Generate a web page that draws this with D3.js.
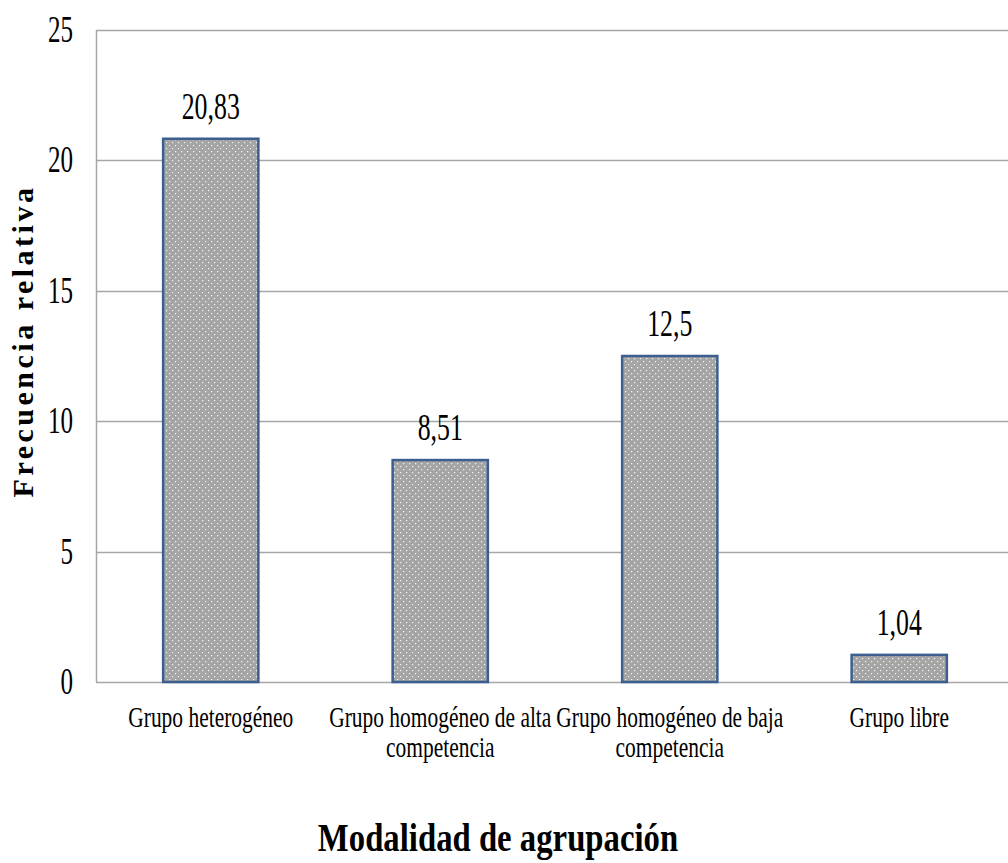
<!DOCTYPE html>
<html>
<head>
<meta charset="utf-8">
<script src="https://cdn.jsdelivr.net/npm/d3@7"></script>
<style>
  body { margin: 0; background: #fff; }
  text { font-family: "Liberation Serif", "Times New Roman", serif; fill: #000; }
</style>
</head>
<body>
<div id="chart"></div>
<script>
// data
var categories = ["Grupo heterogéneo", "Grupo homogéneo de alta competencia", "Grupo homogéneo de baja competencia", "Grupo libre"];
var catLines = [["Grupo heterogéneo"], ["Grupo homogéneo de alta", "competencia"], ["Grupo homogéneo de baja", "competencia"], ["Grupo libre"]];
var values = [20.83, 8.51, 12.5, 1.04];
var valueLabels = ["20,83", "8,51", "12,5", "1,04"];
var yTicks = [0, 5, 10, 15, 20, 25];

var W = 1008, H = 863;
var plotLeft = 96, plotTop = 30, plotBottom = 682, plotRight = 1014;

var svg = d3.select("#chart").append("svg")
  .attr("width", W)
  .attr("height", H);

var defs = svg.append("defs");
var pat = defs.append("pattern")
  .attr("id", "dots")
  .attr("patternUnits", "userSpaceOnUse")
  .attr("width", 6)
  .attr("height", 6);
pat.append("rect").attr("width", 6).attr("height", 6).attr("fill", "#a5a5a5");
pat.append("rect").attr("x", 1).attr("y", 1).attr("width", 1.2).attr("height", 1.2).attr("fill", "#f4f4f4");
pat.append("rect").attr("x", 4).attr("y", 4).attr("width", 1.2).attr("height", 1.2).attr("fill", "#f4f4f4");

var x = d3.scaleBand()
  .domain(categories)
  .range([plotLeft, plotRight])
  .paddingInner(0.585)
  .paddingOuter(0.2925);

var y = d3.scaleLinear()
  .domain([0, 25])
  .range([plotBottom, plotTop]);

// gridlines
svg.append("g")
  .selectAll("line")
  .data(yTicks)
  .enter().append("line")
   .attr("x1", plotLeft)
   .attr("x2", W)
   .attr("y1", function(d) { return Math.round(y(d)) + 0.5; })
   .attr("y2", function(d) { return Math.round(y(d)) + 0.5; })
   .attr("stroke", "#a6a6a6")
   .attr("stroke-width", 1.5);

// left axis line
svg.append("line")
  .attr("x1", plotLeft + 0.5).attr("x2", plotLeft + 0.5)
  .attr("y1", plotTop).attr("y2", plotBottom)
  .attr("stroke", "#a6a6a6")
  .attr("stroke-width", 1.5);

// y tick labels
svg.append("g")
  .selectAll("text")
  .data(yTicks)
  .enter().append("text")
   .attr("transform", function(d) { return "translate(73," + (y(d) + 12) + ") scale(0.66,1)"; })
   .attr("text-anchor", "end")
   .style("font-size", "38px")
   .text(function(d) { return d; });

// bars
svg.append("g")
  .selectAll("rect")
  .data(values)
  .enter().append("rect")
   .attr("x", function(d, i) { return x(categories[i]); })
   .attr("y", function(d) { return y(d); })
   .attr("width", x.bandwidth())
   .attr("height", function(d) { return y(0) - y(d); })
   .attr("fill", "url(#dots)")
   .attr("stroke", "#3c5f8f")
   .attr("stroke-width", 2.5);

// value labels
svg.append("g")
  .selectAll("text")
  .data(values)
  .enter().append("text")
   .attr("transform", function(d, i) {
     return "translate(" + (x(categories[i]) + x.bandwidth() / 2) + "," + (y(d) - 20) + ") scale(0.68,1)";
   })
   .attr("text-anchor", "middle")
   .style("font-size", "38px")
   .text(function(d, i) { return valueLabels[i]; });

// category labels
var catG = svg.append("g")
  .selectAll("g")
  .data(catLines)
  .enter().append("g")
   .attr("transform", function(d, i) {
     return "translate(" + (x(categories[i]) + x.bandwidth() / 2) + ",727) scale(0.74,1)";
   });
catG.selectAll("text")
  .data(function(d) { return d; })
  .enter().append("text")
   .attr("y", function(d, j) { return j * 30; })
   .attr("text-anchor", "middle")
   .style("font-size", "29px")
   .text(function(d) { return d; });

// y axis title
svg.append("text")
  .attr("transform", "translate(33,341) rotate(-90)")
  .attr("text-anchor", "middle")
  .style("font-size", "30px")
  .style("font-weight", "bold")
  .style("letter-spacing", "3.5px")
  .text("Frecuencia relativa");

// x axis title
svg.append("text")
  .attr("transform", "translate(498,851) scale(0.84,1)")
  .attr("text-anchor", "middle")
  .style("font-size", "39px")
  .style("font-weight", "bold")
  .text("Modalidad de agrupación");
</script>
</body>
</html>
